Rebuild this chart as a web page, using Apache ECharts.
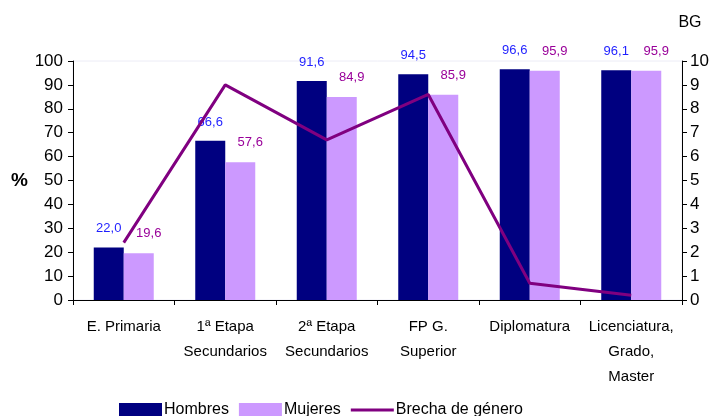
<!DOCTYPE html>
<html>
<head>
<meta charset="utf-8">
<script src="https://cdn.jsdelivr.net/npm/echarts@6/dist/echarts.min.js"></script>
<style>
html,body{margin:0;padding:0;background:#fff;}
#chart{width:712px;height:416px;}
</style>
</head>
<body>
<div id="chart"></div>
<script>
var categories = ['E. Primaria', '1ª Etapa\nSecundarios', '2ª Etapa\nSecundarios', 'FP G.\nSuperior', 'Diplomatura', 'Licenciatura,\nGrado,\nMaster'];
var hombres = [22.0, 66.6, 91.6, 94.5, 96.6, 96.1];
var mujeres = [19.6, 57.6, 84.9, 85.9, 95.9, 95.9];
var brecha = [2.4, 9.0, 6.7, 8.6, 0.7, 0.2];
var leftTicks = {min: 0, max: 100, interval: 10};
var rightTicks = {min: 0, max: 10, interval: 1};

var font = 'Liberation Sans, Arial, sans-serif';
var chart = echarts.init(document.getElementById('chart'), null, {renderer: 'canvas'});
function fmt(v){ return v.toFixed(1).replace('.', ','); }
chart.setOption({
  backgroundColor: '#ffffff',
  animation: false,
  textStyle: {fontFamily: font},
  grid: {left: 73, right: 30, top: 61, bottom: 116, show: true, borderColor: '#ececf6', borderWidth: 1},
  legend: {
    left: 114, top: 397,
    itemWidth: 43, itemHeight: 14, itemGap: 10,
    textStyle: {fontSize: 16, color: '#000', fontFamily: font, padding: [0, 0, 0, -3]},
    data: [
      {name: 'Hombres', icon: 'rect'},
      {name: 'Mujeres', icon: 'rect'},
      {name: 'Brecha de género', icon: 'path://M0,0 L43,0 L43,3 L0,3 Z', itemStyle: {color: '#800080'}}
    ]
  },
  xAxis: {
    type: 'category',
    data: categories,
    axisLine: {lineStyle: {color: '#000', width: 1}},
    axisTick: {show: true, length: 5, lineStyle: {color: '#000'}},
    axisLabel: {interval: 0, color: '#000', fontSize: 15, lineHeight: 25, margin: 14, fontFamily: font},
    splitLine: {show: false}
  },
  yAxis: [{
    type: 'value', min: leftTicks.min, max: leftTicks.max, interval: leftTicks.interval,
    name: '%', nameLocation: 'middle', nameRotate: 0, nameGap: 45,
    nameTextStyle: {fontSize: 19, fontWeight: 'bold', color: '#000', fontFamily: font},
    axisLine: {show: true, lineStyle: {color: '#000'}},
    axisTick: {show: true, length: 5, lineStyle: {color: '#000'}},
    axisLabel: {color: '#000', fontSize: 17, margin: 10, fontFamily: font},
    splitLine: {show: false}
  }, {
    type: 'value', min: rightTicks.min, max: rightTicks.max, interval: rightTicks.interval,
    name: 'BG', nameLocation: 'end', nameGap: 30,
    nameTextStyle: {fontSize: 16, color: '#000', fontFamily: font, padding: [0, 0, 0, 16]},
    axisLine: {show: true, lineStyle: {color: '#000'}},
    axisTick: {show: true, length: 5, lineStyle: {color: '#000'}},
    axisLabel: {color: '#000', fontSize: 17, margin: 8, fontFamily: font},
    splitLine: {show: false}
  }],
  series: [{
    name: 'Hombres', type: 'bar', data: hombres, yAxisIndex: 0,
    barWidth: 30, barGap: '0%',
    itemStyle: {color: '#000080'},
    label: {show: true, position: 'top', distance: 12, color: '#1f1fff', fontSize: 13, fontFamily: font,
      formatter: function(p){ return fmt(p.value); }}
  }, {
    name: 'Mujeres', type: 'bar', data: mujeres, yAxisIndex: 0,
    barWidth: 30, barGap: '0%',
    itemStyle: {color: '#cc99ff'},
    label: {show: true, position: 'top', distance: 13, offset: [10, 0], color: '#990099', fontSize: 13, fontFamily: font,
      formatter: function(p){ return fmt(p.value); }}
  }, {
    name: 'Brecha de género', type: 'line', data: brecha, yAxisIndex: 1,
    symbol: 'none', showSymbol: false,
    lineStyle: {color: '#800080', width: 3},
    itemStyle: {color: '#800080'},
    z: 5
  }]
});
</script>
</body>
</html>
